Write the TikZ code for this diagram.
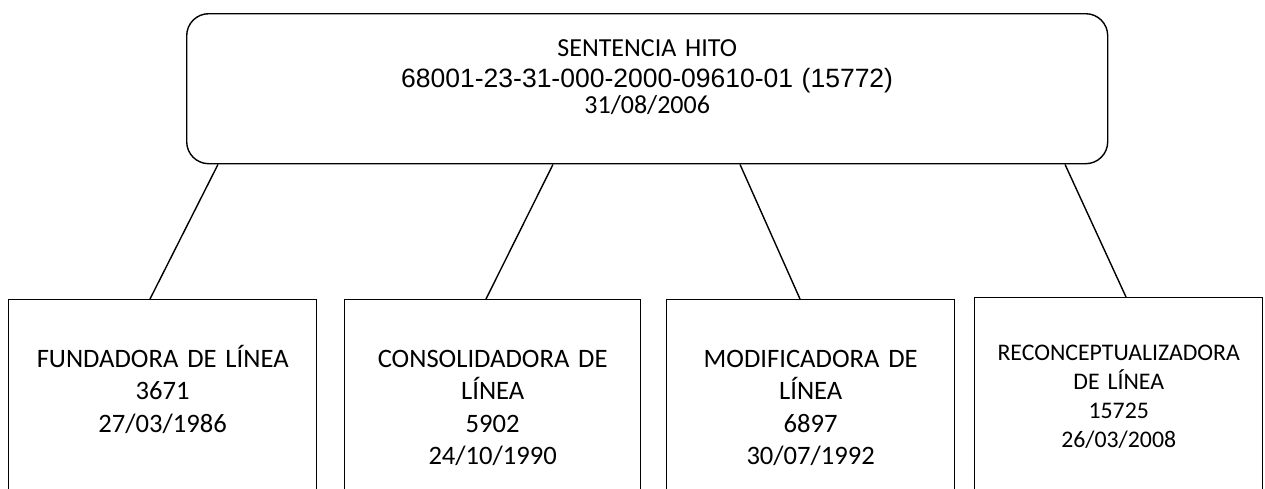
\documentclass[tikz,border=0pt]{standalone}
\usepackage{fontspec}
\setmainfont{Carlito}
\newfontfamily\arialf{Liberation Sans}
\usepackage{tikz}

\begin{document}
\begin{tikzpicture}[x=1pt, y=-1pt, line width=1.4pt,
  caja/.style={draw, anchor=north west, minimum height=240pt, inner sep=0pt},
  txt/.style={align=center, text width=300pt, anchor=base, inner sep=0pt,
    font=\fontsize{26.6}{32.5}\selectfont},
  chica/.style={font=\fontsize{23.8}{29}\selectfont}]
  \useasboundingbox (0,0) rectangle (1265,488);
  \clip (0,0) rectangle (1265,488);

  \node[draw, rounded corners=22pt, anchor=north west, minimum width=921pt,
    minimum height=150pt] (hito) at (186,13) {};
  \node[txt, text width=700pt, font=\fontsize{26}{26}\selectfont]
    (hitot) at ([yshift=-43pt]hito.north)
    {SENTENCIA HITO\\[5pt]{\arialf\fontsize{26.5}{26}\selectfont 68001-23-31-000-2000-09610-01 (15772)}\\31/08/2006};

  \def\fallo#1#2#3#4#5#6{
    \node[caja, minimum width=#3] (#1) at (#2,#4) {};
    \node[txt, #5] (#1t) at ([yshift=-68pt]#1.north) {#6};
  }

  \fallo{fund}{8}{308pt}{299}{}{FUNDADORA DE LÍNEA\\3671\\27/03/1986}
  \fallo{cons}{344}{296pt}{299}{}{CONSOLIDADORA DE\\LÍNEA\\5902\\24/10/1990}
  \fallo{modi}{666}{288pt}{299}{}{MODIFICADORA DE\\LÍNEA\\6897\\30/07/1992}
  \fallo{reco}{974}{288pt}{297}{chica, yshift=5pt}{RECONCEPTUALIZADORA\\DE LÍNEA\\15725\\26/03/2008}

  \draw ([xshift=32pt]hito.south west) -- ([xshift=142pt]fund.north west);
  \draw ([xshift=367pt]hito.south west) -- ([xshift=142pt]cons.north west);
  \draw ([xshift=554pt]hito.south west) -- ([xshift=134pt]modi.north west);
  \draw ([xshift=879pt]hito.south west) -- ([xshift=152pt]reco.north west);
\end{tikzpicture}
\end{document}
